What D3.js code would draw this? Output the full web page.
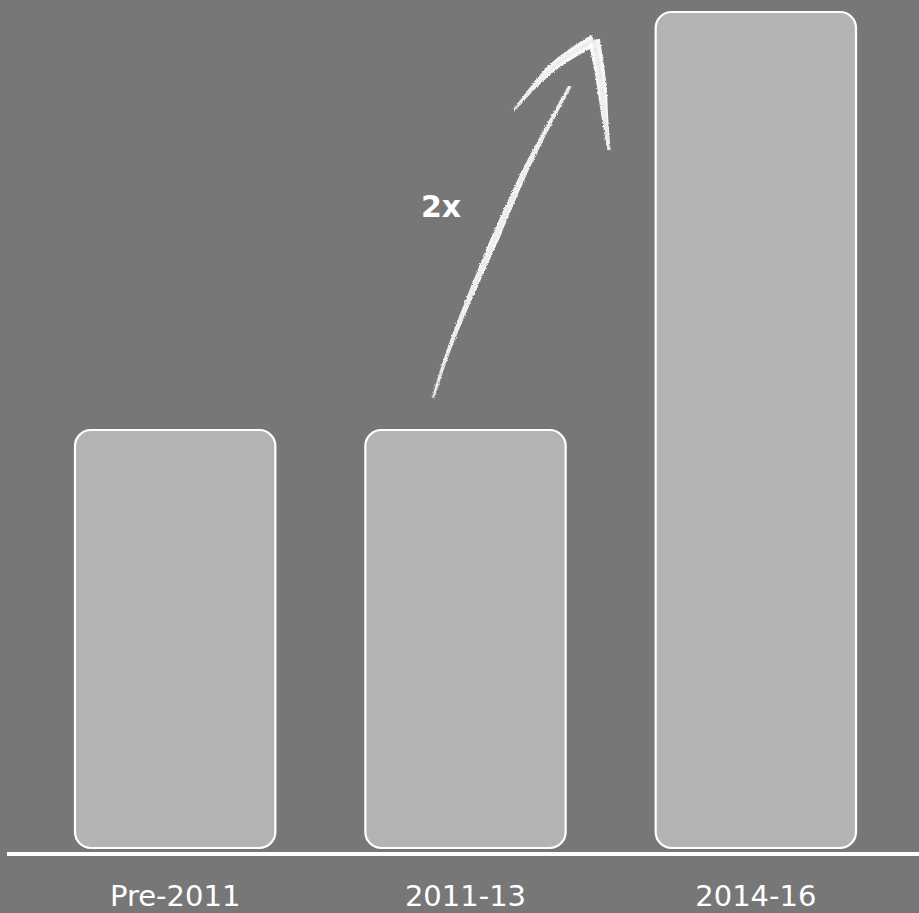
<!DOCTYPE html>
<html><head><meta charset="utf-8">
<script src="https://cdn.jsdelivr.net/npm/d3@7"></script>
<style>
html,body{margin:0;padding:0;background:#777777;}
svg{display:block;}
</style></head>
<body>
<svg id="chart" width="919" height="913"></svg>
<script>
const categories = ["Pre-2011", "2011-13", "2014-16"];
const values = [1, 1, 2];
const annotationLabel = "2x";

const W = 919, H = 913;
const svg = d3.select("#chart");
svg.append("rect").attr("width", W).attr("height", H).attr("fill", "#777777");

const x = d3.scaleBand().domain(categories).range([30, 901]).paddingInner(0.31).paddingOuter(0.155);
const y = d3.scaleLinear().domain([0, 2]).range([848, 12]);

// chalk filter
const defs = svg.append("defs");
const f = defs.append("filter").attr("id", "chalk").attr("x", "-20%").attr("y", "-20%").attr("width", "140%").attr("height", "140%");
f.append("feTurbulence").attr("type", "fractalNoise").attr("baseFrequency", "0.9").attr("numOctaves", 2).attr("seed", 3).attr("result", "noise");
f.append("feDisplacementMap").attr("in", "SourceGraphic").attr("in2", "noise").attr("scale", 3).attr("xChannelSelector", "R").attr("yChannelSelector", "G");

// bars
svg.selectAll("rect.bar").data(categories).join("rect")
  .attr("class", "bar")
  .attr("x", d => x(d))
  .attr("width", x.bandwidth())
  .attr("y", (d, i) => y(values[i]))
  .attr("height", (d, i) => y(0) - y(values[i]))
  .attr("rx", 16).attr("ry", 16)
  .attr("fill", "#b3b3b3")
  .attr("stroke", "#ffffff")
  .attr("stroke-width", 2.2);

// baseline
svg.append("line").attr("x1", 7).attr("x2", W).attr("y1", 854).attr("y2", 854)
  .attr("stroke", "#ffffff").attr("stroke-width", 4);

// category labels
svg.selectAll("text.cat").data(categories).join("text")
  .attr("class", "cat")
  .attr("x", d => x(d) + x.bandwidth() / 2)
  .attr("y", 906)
  .attr("text-anchor", "middle")
  .attr("font-family", "DejaVu Sans, Verdana, sans-serif")
  .attr("font-size", 29)
  .attr("fill", "#ffffff")
  .text(d => d);

// annotation label
svg.append("text").attr("x", 441).attr("y", 217).attr("text-anchor", "middle")
  .attr("font-family", "DejaVu Sans, Verdana, sans-serif")
  .attr("font-weight", "bold").attr("font-size", 30).attr("fill", "#ffffff")
  .text(annotationLabel);

// chalk arrow
const shaft = [[433, 398], [447, 355], [462, 316], [490, 250], [528, 165], [570, 86]];
const wingL = [[594, 40], [553, 67], [514, 110]];
const wingR = [[594, 40], [601, 80], [605, 118], [609, 150]];

function tapered(pts, w0, w1, w2) {
  const line = d3.line().curve(d3.curveCatmullRom);
  const tmp = svg.append("path").attr("d", line(pts)).attr("fill", "none");
  const node = tmp.node(), L = node.getTotalLength();
  const N = 60, left = [], right = [];
  for (let i = 0; i <= N; i++) {
    const t = i / N;
    const p = node.getPointAtLength(t * L);
    const q = node.getPointAtLength(Math.min(L, t * L + 0.5));
    const r = node.getPointAtLength(Math.max(0, t * L - 0.5));
    let dx = q.x - r.x, dy = q.y - r.y; const m = Math.hypot(dx, dy) || 1; dx /= m; dy /= m;
    const w = t < 0.5 ? w0 + (w1 - w0) * (t / 0.5) : w1 + (w2 - w1) * ((t - 0.5) / 0.5);
    left.push([p.x - dy * w / 2, p.y + dx * w / 2]);
    right.push([p.x + dy * w / 2, p.y - dx * w / 2]);
  }
  tmp.remove();
  return "M" + left.map(p => p.join(",")).join("L") + "L" + right.reverse().map(p => p.join(",")).join("L") + "Z";
}

const arrow = svg.append("g").attr("filter", "url(#chalk)");
arrow.append("path").attr("d", tapered(shaft, 2, 8, 3)).attr("fill", "#ffffff").attr("opacity", 0.95);
arrow.append("path").attr("d", tapered(wingL, 12, 8, 1.5)).attr("fill", "#ffffff").attr("opacity", 0.95);
arrow.append("path").attr("d", tapered(wingR, 12, 9, 3)).attr("fill", "#ffffff").attr("opacity", 0.95);
// streaks for chalky look
const streaks = [[-1.5, 0.5, "#cfcfcf"], [1.2, 0.6, "#e0e0e0"], [0.2, 0.4, "#bdbdbd"]];
streaks.forEach(([off, w, c]) => {
  [shaft, wingL, wingR].forEach(pts => {
    arrow.append("path")
      .attr("d", d3.line().curve(d3.curveCatmullRom)(pts.map(p => [p[0] + off, p[1] + off * 0.5])))
      .attr("fill", "none").attr("stroke", c).attr("stroke-width", w).attr("opacity", 0.8);
  });
});
</script>
</body></html>
